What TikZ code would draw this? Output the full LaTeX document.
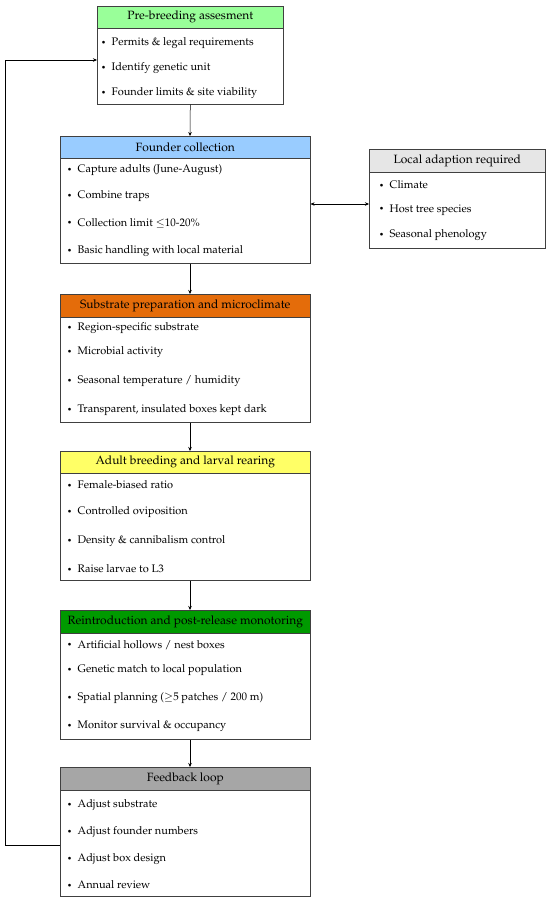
\documentclass[tikz,border=0pt]{standalone}
\usepackage[T1]{fontenc}
\usepackage{mathpazo}
\usetikzlibrary{arrows.meta}
\definecolor{hgreen}{HTML}{99FF99}
\definecolor{hblue}{HTML}{99CCFF}
\definecolor{horange}{HTML}{E46C0A}
\definecolor{hyellow}{HTML}{FFFF66}
\definecolor{hdgreen}{HTML}{009A00}
\definecolor{hgray}{HTML}{A6A6A6}
\definecolor{hlight}{HTML}{E6E6E6}
\definecolor{edge}{HTML}{404040}
\newcommand{\hdfont}{\fontsize{12}{14}\selectfont}
\newcommand{\itfont}{\fontsize{11}{13}\selectfont}
\newcommand{\bul}{\makebox[10.5pt][l]{\raisebox{0.4pt}{\scalebox{0.75}{\textbullet}}}}
\tikzset{
  box/.style={draw=edge, line width=0.6pt, rectangle, inner sep=0pt, anchor=north west, fill=white},
  head/.style={draw=edge, line width=0.6pt, rectangle, inner sep=0pt, anchor=north west, font=\hdfont},
  item/.style={anchor=west, inner sep=0pt, font=\itfont},
  arr/.style={-{Stealth[length=4pt,width=3.5pt]}, line width=0.5pt},
  darr/.style={{Stealth[length=4pt,width=3.5pt]}-{Stealth[length=4pt,width=3.5pt]}, line width=0.5pt}
}
\begin{document}
\begin{tikzpicture}[x=1pt,y=-1pt]
\useasboundingbox (0,0) rectangle (550,902);
% Box 1
\node[box, minimum width=186pt, minimum height=98pt] (b1) at (97,6) {};
\node[head, fill=hgreen, minimum width=186pt, minimum height=22pt] (h1) at (97,6) {Pre-breeding assesment};
\node[item] (b1a) at (101,43) {\bul Permits \& legal requirements};
\node[item] (b1b) at (101,68) {\bul Identify genetic unit};
\node[item] (b1c) at (101,93) {\bul Founder limits \& site viability};
% Box 2
\node[box, minimum width=250pt, minimum height=127pt] (b2) at (60,136) {};
\node[head, fill=hblue, minimum width=250pt, minimum height=22pt] (h2) at (60,136) {Founder collection};
\node[item] (b2a) at (67,170) {\bul Capture adults (June-August)};
\node[item] (b2b) at (67,196) {\bul Combine traps};
\node[item] (b2c) at (67,223) {\bul Collection limit $\leq$10-20\%};
\node[item] (b2d) at (67,251) {\bul Basic handling with local material};
% Local adaption box
\node[box, minimum width=176pt, minimum height=99pt] (loc) at (369,149) {};
\node[head, fill=hlight, minimum width=176pt, minimum height=23pt] (hl) at (369,149) {Local adaption required};
\node[item] (la) at (379,185) {\bul Climate};
\node[item] (lb) at (379,210) {\bul Host tree species};
\node[item] (lc) at (379,235) {\bul Seasonal phenology};
% Box 3
\node[box, minimum width=250pt, minimum height=128pt] (b3) at (60,294) {};
\node[head, fill=horange, minimum width=250pt, minimum height=23pt] (h3) at (60,294) {Substrate preparation and microclimate};
\node[item] (b3a) at (67,328) {\bul Region-specific substrate};
\node[item] (b3b) at (67,352) {\bul Microbial activity};
\node[item] (b3c) at (67,381) {\bul Seasonal temperature / humidity};
\node[item] (b3d) at (67,410) {\bul Transparent, insulated boxes kept dark};
% Box 4
\node[box, minimum width=250pt, minimum height=129pt] (b4) at (60,451) {};
\node[head, fill=hyellow, minimum width=250pt, minimum height=22pt] (h4) at (60,451) {Adult breeding and larval rearing};
\node[item] (b4a) at (67,485) {\bul Female-biased ratio};
\node[item] (b4b) at (67,512) {\bul Controlled oviposition};
\node[item] (b4c) at (67,541) {\bul Density \& cannibalism control};
\node[item] (b4d) at (67,569) {\bul Raise larvae to L3};
% Box 5
\node[box, minimum width=250pt, minimum height=129pt] (b5) at (60,610) {};
\node[head, fill=hdgreen, minimum width=250pt, minimum height=23pt] (h5) at (60,610) {Reintroduction and post-release monotoring};
\node[item] (b5a) at (67,645) {\bul Artificial hollows / nest boxes};
\node[item] (b5b) at (67,670) {\bul Genetic match to local population};
\node[item] (b5c) at (67,698) {\bul Spatial planning ($\geq$5 patches / 200 m)};
\node[item] (b5d) at (67,726) {\bul Monitor survival \& occupancy};
% Box 6
\node[box, minimum width=250pt, minimum height=129pt] (b6) at (60,767) {};
\node[head, fill=hgray, minimum width=250pt, minimum height=23pt] (h6) at (60,767) {Feedback loop};
\node[item] (b6a) at (67,805) {\bul Adjust substrate};
\node[item] (b6b) at (67,832) {\bul Adjust founder numbers};
\node[item] (b6c) at (67,859) {\bul Adjust box design};
\node[item] (b6d) at (67,885) {\bul Annual review};
% connectors
\coordinate (cx) at (190,0);
\draw[arr] (b1.south) -- (cx |- h2.north);
\draw[arr] (cx |- b2.south) -- (cx |- h3.north);
\draw[arr] (cx |- b3.south) -- (cx |- h4.north);
\draw[arr] (cx |- b4.south) -- (cx |- h5.north);
\draw[arr] (cx |- b5.south) -- (cx |- h6.north);
\coordinate (ya) at (0,204);
\draw[darr] (b2.east |- ya) -- (loc.west |- ya);
\coordinate (f1) at (60,845);
\coordinate (f2) at (5,845);
\coordinate (f3) at (5,60);
\draw[arr] (f1) -- (f2) -- (f3) -- (b1.west |- f3);
\end{tikzpicture}
\end{document}
